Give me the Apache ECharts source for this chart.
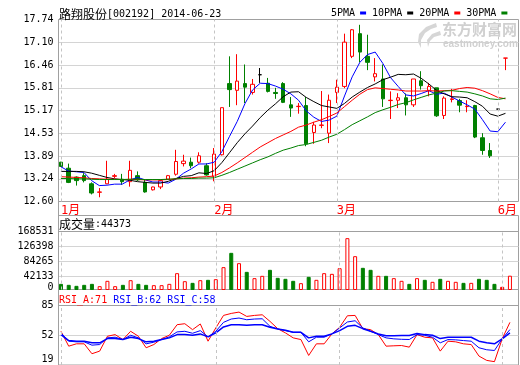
<!DOCTYPE html>
<html><head><meta charset="utf-8">
<script src="https://cdn.jsdelivr.net/npm/echarts@6/dist/echarts.min.js"></script>
<style>html,body{margin:0;padding:0;background:#fff}#c{width:520px;height:365px}</style>
</head><body><div id="c"></div>
<script>
// ---------- data ----------
const stockName = '路翔股份', stockCode = '002192', chartDate = '2014-06-23';
const monthLabels = {0: '1月', 20: '2月', 36: '3月', 57: '6月'};
const priceTicks = ['12.60','13.24','13.89','14.53','15.17','15.81','16.46','17.10','17.74'];
const volTicks = ['0','42133','84265','126398','168531'];
const rsiTicks = ['19','52','85'];
const rsiHeader = {A: 71, B: 62, C: 58};
const maNames = ['5PMA','10PMA','20PMA','30PMA'];

const opens  = [13.71,13.54,13.29,13.33,13.10,12.86,13.10,13.31,13.23,13.16,13.33,13.14,12.93,13.01,13.23,13.37,13.67,13.71,13.71,13.61,
                13.31,13.92,15.93,15.74,15.93,15.68,16.18,15.94,15.68,15.93,15.33,15.28,15.31,14.55,14.75,14.53,15.68,15.85,16.70,17.34,
                16.70,16.12,16.06,15.45,15.46,15.53,15.33,16.01,15.74,15.81,15.03,15.48,15.45,15.28,15.31,14.40,14.04,15.21,16.65];
const closes = [13.59,13.14,13.19,13.19,12.84,12.87,13.23,13.33,13.16,13.48,13.21,12.87,13.01,13.19,13.33,13.73,13.74,13.61,13.89,13.35,
                13.94,15.25,15.76,16.00,15.83,15.91,16.18,15.71,15.65,15.40,15.24,15.29,14.23,14.76,14.76,15.46,15.83,17.10,17.45,16.82,
                16.53,16.21,15.50,15.46,15.53,15.33,16.06,15.87,15.85,15.02,15.52,15.50,15.32,15.29,14.42,14.04,13.89,15.21,16.65];
const lows   = [13.58,13.12,13.05,13.14,12.80,12.72,13.09,13.26,13.07,13.02,13.18,12.85,12.91,12.95,13.21,13.33,13.59,13.54,13.67,13.33,
                13.17,13.90,15.27,15.32,15.38,15.62,15.95,15.68,15.50,15.38,14.99,15.08,14.16,14.23,14.67,14.25,15.38,15.80,16.65,16.53,
                16.31,15.99,15.27,14.93,15.24,15.03,15.27,15.76,15.57,14.99,14.93,15.40,15.12,15.12,14.39,13.92,13.83,15.21,16.31];
const highs  = [13.72,13.67,13.31,13.40,13.14,12.98,13.75,13.38,13.38,13.75,13.45,13.21,13.02,13.23,13.35,14.06,13.92,13.84,13.99,13.68,
                14.11,15.25,16.70,16.76,16.47,16.06,16.37,16.09,15.81,15.97,15.55,15.38,15.55,14.85,15.72,15.62,16.04,17.34,17.47,17.59,
                17.31,16.65,16.47,15.71,15.66,15.65,16.06,16.28,15.95,15.81,15.57,15.78,15.50,15.46,15.33,14.53,14.25,15.21,16.65];
const blackDoji = [26, 57];

const volumes = [21500,18700,15900,18700,21500,15000,30000,15000,18700,31800,21500,18700,17800,17800,21500,51500,29000,24300,31800,32800,
                 34600,68400,108600,79600,55200,37500,44000,60900,38400,35600,30000,23400,41200,32800,51500,49600,65500,149800,99200,66500,
                 60900,44000,44000,37500,30000,21500,37500,32800,27200,35600,30000,27200,24300,24300,35600,32800,21500,13100,44373];

const ma5  = [13.58,13.46,13.44,13.42,13.19,13.05,13.06,13.09,13.09,13.21,13.28,13.21,13.15,13.15,13.12,13.23,13.40,13.52,13.66,13.66,
              13.71,14.01,14.44,14.86,15.36,15.75,15.94,15.93,15.86,15.77,15.64,15.46,15.16,14.98,14.86,14.90,15.01,15.58,16.12,16.53,
              16.75,16.82,16.50,16.10,15.85,15.61,15.58,15.65,15.73,15.63,15.66,15.55,15.44,15.33,15.21,14.91,14.59,14.57,14.84];
const ma10 = [13.45,13.45,13.45,13.44,13.40,13.34,13.28,13.24,13.22,13.20,13.16,13.14,13.12,13.12,13.17,13.25,13.31,13.33,13.41,13.39,
              13.47,13.70,13.98,14.26,14.51,14.73,14.97,15.18,15.36,15.56,15.69,15.70,15.54,15.42,15.31,15.27,15.23,15.37,15.55,15.69,
              15.82,15.92,16.04,16.11,16.19,16.18,16.20,16.08,15.92,15.74,15.64,15.56,15.55,15.53,15.42,15.29,15.07,15.01,15.09];
const ma20 = [13.30,13.29,13.28,13.27,13.25,13.24,13.23,13.23,13.22,13.22,13.22,13.21,13.21,13.21,13.22,13.24,13.26,13.27,13.29,13.30,
              13.32,13.42,13.55,13.69,13.84,13.99,14.14,14.26,14.38,14.48,14.58,14.70,14.76,14.84,14.91,15.00,15.10,15.28,15.46,15.63,
              15.76,15.81,15.79,15.77,15.75,15.72,15.72,15.72,15.73,15.72,15.73,15.74,15.79,15.82,15.80,15.73,15.64,15.54,15.50];
const ma30 = [13.25,13.25,13.24,13.24,13.23,13.22,13.22,13.22,13.22,13.23,13.23,13.22,13.22,13.22,13.23,13.24,13.25,13.25,13.26,13.26,
              13.27,13.34,13.42,13.51,13.60,13.69,13.78,13.86,13.96,14.05,14.11,14.18,14.21,14.27,14.33,14.42,14.50,14.63,14.77,14.88,
              14.99,15.11,15.19,15.26,15.34,15.39,15.47,15.54,15.61,15.66,15.72,15.73,15.71,15.69,15.64,15.58,15.50,15.48,15.52];

const rsiA = [56.4,39.9,42.5,42.5,31.5,34.4,50.9,52.7,47.2,56.4,50.9,38.1,41.7,48.3,52.0,63.7,64.8,58.2,64.5,45.4,
              60.1,74.0,76.2,77.7,72.9,74.0,74.7,67.4,59.3,54.6,49.1,47.2,29.6,42.5,42.5,53.5,60.8,73.6,74.0,59.3,
              58.2,52.7,39.9,40.3,40.6,38.8,52.7,49.8,49.1,34.4,45.4,44.7,42.5,41.7,28.9,24.1,22.7,48.0,66.3];
const rsiB = [54.6,45.4,44.7,44.7,41.0,41.7,49.1,49.8,47.2,52.0,49.1,42.5,44.3,47.2,50.2,55.7,56.4,54.2,57.1,50.2,
              56.4,66.3,70.0,71.1,69.2,70.0,70.3,61.9,59.0,57.1,55.3,55.3,44.7,49.8,49.8,53.5,60.1,66.7,68.1,60.1,
              56.4,52.7,49.1,48.0,47.5,47.3,52.7,52.0,49.8,43.6,47.2,46.9,46.1,45.4,38.1,35.9,35.1,48.0,58.3];
const rsiC = [52.7,46.1,45.4,45.4,43.6,43.6,48.3,48.3,47.2,49.8,48.3,44.7,45.4,47.2,49.1,52.7,52.7,52.0,53.5,50.2,
              54.6,61.2,63.7,63.7,63.0,63.7,63.7,60.8,59.0,57.5,55.3,55.3,49.1,50.9,50.9,53.5,57.1,61.9,63.0,59.3,
              56.4,53.5,51.5,51.5,51.7,51.7,53.9,52.7,52.0,48.3,49.8,49.8,49.8,49.8,45.4,43.6,42.5,48.0,54.6];

// ---------- style ----------
const RED = '#ff0000', GREEN = '#008000', BLUE = '#0000ff', BLACK = '#000000';
const FRAME = '#a0a0a0', GRIDC = '#d4d4d4', DASH = '#c4c4c4', NONE = 'rgba(0,0,0,0)';
const MONO = "'DejaVu Sans Mono', 'Noto Sans CJK SC', monospace";
const CJK = "'Noto Sans CJK SC', sans-serif";

const cats = closes.map((_, i) => 'd' + i);
const volMax = +volTicks[volTicks.length - 1];
const VOL_TOP = 231.5, VOL_ZERO = 291.5, VOL_BOTTOM = 289.5;
const volMin = volMax * (VOL_ZERO - VOL_BOTTOM) / (VOL_ZERO - VOL_TOP);

const candleData = opens.map((o, i) => {
  const v = [o, closes[i], lows[i], highs[i]];
  if (blackDoji.includes(i)) {
    return {value: v, itemStyle: {color: '#fff', color0: '#fff', borderColor: BLACK, borderColor0: BLACK, borderColorDoji: BLACK}};
  }
  return v;
});
const volData = volumes.map((v, i) => {
  const up = closes[i] > opens[i] || (closes[i] === opens[i] && (i === 0 || closes[i] >= closes[i - 1]));
  const flat = highs[i] === lows[i];
  const st = flat ? {color: RED, borderColor: RED} : up ? {color: '#fff', borderColor: RED} : {color: GREEN, borderColor: GREEN};
  return {value: v, itemStyle: Object.assign({borderWidth: 1}, st)};
});
const monthLines = Object.keys(monthLabels).map(k => ({xAxis: cats[+k]}));
const markLineCfg = () => ({
  silent: true, symbol: ['none', 'none'], label: {show: false}, animation: false,
  lineStyle: {type: [3, 3], color: DASH, width: 1}, data: monthLines.map(d => Object.assign({}, d))
});

const DL = 57.1, DW = 456.7; // data grid: band layout
const lblBase = {fontSize: 10, fontFamily: MONO, color: '#000', margin: 5};
const volLbl = {fontSize: 10, lineHeight: 10, fontFamily: MONO, color: '#000', margin: 5, showMinLabel: true, showMaxLabel: true,
  rich: {z: {fontSize: 10, fontFamily: MONO, color: '#000', lineHeight: 10, padding: [0, 0, 9, 0]}}};
const rsiLbl = {fontSize: 10, fontFamily: MONO, color: '#000', margin: 5, showMinLabel: true, showMaxLabel: true,
  rich: {z: {fontSize: 10, fontFamily: MONO, color: '#000', padding: [0, 0, 11, 0]}}};

const option = {
  animation: false,
  backgroundColor: '#fff',
  title: [
    {left: 59, top: 7, padding: 0,
     text: `{c|${stockName}}{a|[${stockCode}] ${chartDate}}`,
     textStyle: {fontSize: 10, fontWeight: 'normal', fontFamily: MONO, rich: {
       c: {fontSize: 12, fontFamily: CJK, color: '#000', lineHeight: 14},
       a: {fontSize: 10, fontFamily: MONO, color: '#000', lineHeight: 14}}}},
    {left: 59, top: 217.5, padding: 0,
     text: `{c|成交量}{a|:${volumes[volumes.length - 1]}}`,
     textStyle: {fontSize: 10, fontWeight: 'normal', fontFamily: MONO, rich: {
       c: {fontSize: 12, fontFamily: CJK, color: '#000', lineHeight: 14},
       a: {fontSize: 10, fontFamily: MONO, color: '#000', lineHeight: 14}}}},
    {left: 59, top: 293.5, padding: 0,
     text: `{r|RSI_A:${rsiHeader.A} }{b|RSI_B:${rsiHeader.B} RSI_C:${rsiHeader.C}}`,
     textStyle: {fontSize: 10, fontWeight: 'normal', fontFamily: MONO, rich: {
       r: {fontSize: 10, fontFamily: MONO, color: RED, lineHeight: 14},
       b: {fontSize: 10, fontFamily: MONO, color: BLUE, lineHeight: 14}}}}
  ],
  legend: {
    data: maNames, left: 331, top: 8, padding: 0, align: 'right', icon: 'rect',
    itemWidth: 6, itemHeight: 3, itemGap: 6, selectedMode: false,
    textStyle: {fontSize: 10, fontFamily: MONO, color: '#000'}
  },
  grid: [
    {left: 58.5, top: 19.5, width: 460, height: 182, show: true, borderColor: FRAME, borderWidth: 1},
    {left: 58.5, top: 215.5, width: 460, height: 74, show: true, borderColor: FRAME, borderWidth: 1},
    {left: 58.5, top: VOL_TOP, width: 460, height: VOL_ZERO - VOL_TOP},
    {left: 58.5, top: 289.5, width: 460, height: 100, show: true, borderColor: FRAME, borderWidth: 1},
    {left: 58.5, top: 305.5, width: 460, height: 60},
    {left: DL, top: 19.5, width: DW, height: 182},
    {left: DL, top: VOL_TOP, width: DW, height: VOL_BOTTOM - VOL_TOP},
    {left: DL, top: 305.5, width: DW, height: 60}
  ],
  xAxis: [
    {type: 'value', gridIndex: 0, show: false},
    {type: 'value', gridIndex: 1, show: false},
    {type: 'value', gridIndex: 2, show: false},
    {type: 'value', gridIndex: 3, show: false},
    {type: 'value', gridIndex: 4, show: false},
    {type: 'category', gridIndex: 5, data: cats, boundaryGap: true,
     axisLine: {show: false}, axisTick: {show: false}, splitLine: {show: false},
     axisLabel: {interval: 0, formatter: (v, idx) => monthLabels[idx] || '', color: RED,
                 fontSize: 12, fontFamily: MONO, align: 'left', margin: 3}},
    {type: 'category', gridIndex: 6, data: cats, boundaryGap: true, show: false},
    {type: 'category', gridIndex: 7, data: cats, boundaryGap: true, show: false}
  ],
  yAxis: [
    {type: 'value', gridIndex: 0, min: 0, max: priceTicks.length - 1, interval: 1,
     axisLine: {show: false}, axisTick: {show: false},
     axisLabel: Object.assign({formatter: v => priceTicks[Math.round(v)]}, lblBase),
     splitLine: {show: true, lineStyle: {color: priceTicks.map((_, i) => (i === 0 || i === priceTicks.length - 1) ? NONE : GRIDC)}}},
    {type: 'value', gridIndex: 1, show: false},
    {type: 'value', gridIndex: 2, min: 0, max: volTicks.length - 1, interval: 1,
     axisLine: {show: false}, axisTick: {show: false},
     axisLabel: Object.assign({formatter: v => Math.round(v) === 0 ? '{z|' + volTicks[0] + '}' : volTicks[Math.round(v)]}, volLbl),
     splitLine: {show: true, lineStyle: {color: volTicks.map((_, i) => i === 0 ? NONE : (i === volTicks.length - 1 ? FRAME : GRIDC))}}},
    {type: 'value', gridIndex: 3, show: false},
    {type: 'value', gridIndex: 4, min: 0, max: rsiTicks.length - 1, interval: 1,
     axisLine: {show: false}, axisTick: {show: false},
     axisLabel: Object.assign({formatter: v => Math.round(v) === 0 ? '{z|' + rsiTicks[0] + '}' : rsiTicks[Math.round(v)]}, rsiLbl),
     splitLine: {show: true, lineStyle: {color: rsiTicks.map((_, i) => i === 0 ? NONE : (i === rsiTicks.length - 1 ? FRAME : GRIDC))}}},
    {type: 'value', gridIndex: 5, min: +priceTicks[0], max: +priceTicks[priceTicks.length - 1], show: false},
    {type: 'value', gridIndex: 6, min: volMin, max: volMax, show: false},
    {type: 'value', gridIndex: 7, min: +rsiTicks[0], max: +rsiTicks[rsiTicks.length - 1], show: false}
  ],
  series: [
    {type: 'candlestick', name: 'K', xAxisIndex: 5, yAxisIndex: 5, data: candleData, barWidth: 4,
     itemStyle: {color: '#fff', color0: GREEN, borderColor: RED, borderColor0: GREEN, borderWidth: 1},
     markLine: markLineCfg()},
    {type: 'line', name: maNames[0], xAxisIndex: 5, yAxisIndex: 5, data: ma5, color: BLUE, symbol: 'none', lineStyle: {width: 1, color: BLUE}},
    {type: 'line', name: maNames[1], xAxisIndex: 5, yAxisIndex: 5, data: ma10, color: BLACK, symbol: 'none', lineStyle: {width: 1, color: BLACK}},
    {type: 'line', name: maNames[2], xAxisIndex: 5, yAxisIndex: 5, data: ma20, color: RED, symbol: 'none', lineStyle: {width: 1, color: RED}},
    {type: 'line', name: maNames[3], xAxisIndex: 5, yAxisIndex: 5, data: ma30, color: GREEN, symbol: 'none', lineStyle: {width: 1, color: GREEN}},
    {type: 'bar', name: 'VOL', xAxisIndex: 6, yAxisIndex: 6, data: volData, barWidth: 4, markLine: markLineCfg()},
    {type: 'line', name: 'RSI_A', xAxisIndex: 7, yAxisIndex: 7, data: rsiA, symbol: 'none', lineStyle: {width: 1, color: RED}, markLine: markLineCfg()},
    {type: 'line', name: 'RSI_B', xAxisIndex: 7, yAxisIndex: 7, data: rsiB, symbol: 'none', lineStyle: {width: 1, color: BLUE}},
    {type: 'line', name: 'RSI_C', xAxisIndex: 7, yAxisIndex: 7, data: rsiC, symbol: 'none', lineStyle: {width: 1.5, color: BLUE}}
  ],
  graphic: [
    {type: 'line', z: 50, shape: {x1: 58.5, y1: 19.5, x2: 58.5, y2: 365}, style: {stroke: FRAME, lineWidth: 1}},
    {type: 'polygon', z: 1, shape: {points: [[436,23],[426,27],[419,34],[418,42],[421,48],[421,40],[425,33],[431,29],[437,27]]}, style: {fill: '#d6d6d6'}},
    {type: 'polygon', z: 1, shape: {points: [[440,31],[432,34],[427,40],[428,47],[430,41],[434,37],[441,35]]}, style: {fill: '#d6d6d6'}},
    {type: 'text', z: 1, x: 442, y: 22, style: {text: '东方财富网', font: 'bold 15px ' + CJK, fill: '#d0d0d0', verticalAlign: 'top'}},
    {type: 'text', z: 1, x: 443, y: 39, style: {text: 'eastmoney.com', font: 'bold 10px "Liberation Sans", sans-serif', fill: '#d0d0d0', verticalAlign: 'top'}}
  ]
};

const chart = echarts.init(document.getElementById('c'), null, {renderer: 'canvas'});
chart.setOption(option);
</script>
</body></html>
